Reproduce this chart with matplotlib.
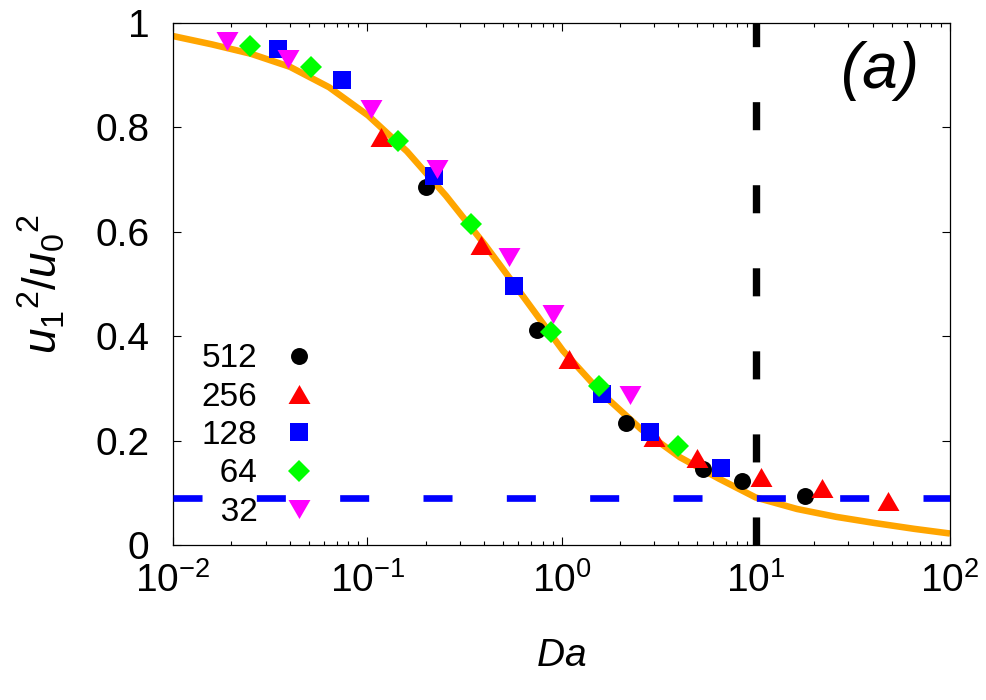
import matplotlib
matplotlib.use("Agg")
import matplotlib.pyplot as plt
from matplotlib.ticker import LogLocator, FixedLocator, NullFormatter

plt.rcParams['font.family'] = ['Liberation Sans', 'DejaVu Sans']
plt.rcParams['mathtext.fontset'] = 'custom'
plt.rcParams['mathtext.rm'] = 'Liberation Sans'
plt.rcParams['mathtext.it'] = 'Liberation Sans:italic'
plt.rcParams['mathtext.bf'] = 'Liberation Sans:bold'

# ---- data ----
labels = ['512', '256', '128', '64', '32']
da_512 = [0.200, 0.745, 2.15, 5.37, 8.47, 17.9]
val_512 = [0.685, 0.411, 0.234, 0.145, 0.123, 0.094]
da_256 = [0.118, 0.386, 1.097, 2.99, 5.0, 10.7, 22.0, 48.2]
val_256 = [0.781, 0.574, 0.357, 0.207, 0.166, 0.131, 0.110, 0.085]
da_128 = [0.0346, 0.0738, 0.221, 0.571, 1.61, 2.86, 6.59]
val_128 = [0.950, 0.891, 0.707, 0.496, 0.290, 0.217, 0.148]
da_64 = [0.0249, 0.0513, 0.1445, 0.341, 0.881, 1.56, 3.96]
val_64 = [0.956, 0.915, 0.774, 0.615, 0.409, 0.304, 0.190]
da_32 = [0.019, 0.0389, 0.104, 0.228, 0.537, 0.902, 2.25]
val_32 = [0.966, 0.931, 0.835, 0.720, 0.551, 0.443, 0.287]

curve_da = [0.01, 0.01588, 0.02521, 0.04003, 0.06356, 0.1009, 0.1602,
            0.2543, 0.4038, 0.6411, 1.018, 1.616, 2.566, 4.074, 6.469,
            10.0, 16.31, 25.88, 41.10, 65.27, 100.0]
curve_val = [0.975, 0.959, 0.941, 0.916, 0.877, 0.823, 0.754,
             0.669, 0.575, 0.474, 0.372, 0.290, 0.222, 0.168, 0.127,
             0.091, 0.069, 0.054, 0.042, 0.031, 0.022]

da_critical = 10.0
val_floor = 0.0893

x_ticks = [1e-2, 1e-1, 1e0, 1e1, 1e2]
y_ticks = [0, 0.2, 0.4, 0.6, 0.8, 1.0]
y_ticklabels = ['0', '0.2', '0.4', '0.6', '0.8', '1']

# ---- figure ----
fig = plt.figure(figsize=(9.86, 7.0), dpi=100)
ax = fig.add_axes([173/986, 1-545/700, 777/986, 522/700])

ax.plot(curve_da, curve_val, color='#FFA500', lw=4.7, zorder=2, solid_capstyle='butt')

lw_b = 4.8
ax.axhline(val_floor, color='#0000FF', lw=lw_b, dashes=(20.9/lw_b, 39.1/lw_b), zorder=3)
lw_k = 5.3
ax.plot([da_critical, da_critical], [0, 1], color='black', lw=lw_k,
        dashes=(20.2/lw_k, 39.6/lw_k), zorder=3, solid_capstyle='butt')

tri_up = [(-1, -0.866), (1, -0.866), (0, 0.866), (-1, -0.866)]
tri_dn = [(-1, 0.866), (1, 0.866), (0, -0.866), (-1, 0.866)]

series = [
    (da_512, val_512, 'black', 'o', 12.2),
    (da_256, val_256, '#FF0000', tri_up, 15.8),
    (da_128, val_128, '#0000FF', 's', 13.0),
    (da_64, val_64, '#00FF00', 'D', 11.2),
    (da_32, val_32, '#FF00FF', tri_dn, 15.8),
]
leg_labels = ['512', '256', '128', '\u200764', '\u200732']
handles = []
for (x, y, c, m, ms), lab in zip(series, leg_labels):
    h, = ax.plot(x, y, linestyle='none', marker=m, color=c, markersize=ms,
                 markeredgewidth=0, zorder=4, label=lab)
    handles.append(h)

ax.set_xscale('log')
ax.set_xlim(1e-2, 1e2)
ax.set_ylim(0, 1)
ax.xaxis.set_major_locator(FixedLocator(x_ticks))
ax.xaxis.set_minor_locator(LogLocator(base=10, subs=range(2, 10), numticks=20))
ax.xaxis.set_minor_formatter(NullFormatter())
ax.set_yticks(y_ticks)
ax.set_yticklabels(y_ticklabels)

ax.tick_params(which='both', direction='in', top=True, right=True, width=0.8)
ax.tick_params(which='major', length=6, labelsize=28)
ax.tick_params(which='minor', length=3)
ax.tick_params(axis='y', pad=17)
ax.tick_params(axis='x', pad=12)
for s in ax.spines.values():
    s.set_linewidth(0.9)

ax.set_xlabel(r'$\mathit{Da}$', fontsize=28, labelpad=28)
ax.set_ylabel(r'$\mathit{u_1{}^2/u_0{}^2}$', fontsize=33, labelpad=20)

ax.text(0.91, 0.908, '(a)', transform=ax.transAxes, fontsize=46,
        style='italic', ha='center', va='center')

leg = ax.legend(handles=handles, loc='upper left', bbox_to_anchor=(0.0366, 0.3865),
                frameon=False, markerfirst=False, fontsize=24, borderpad=0,
                borderaxespad=0, handlelength=1.0, handletextpad=0.75,
                labelspacing=0.22)

fig.savefig('out.png', dpi=100)
